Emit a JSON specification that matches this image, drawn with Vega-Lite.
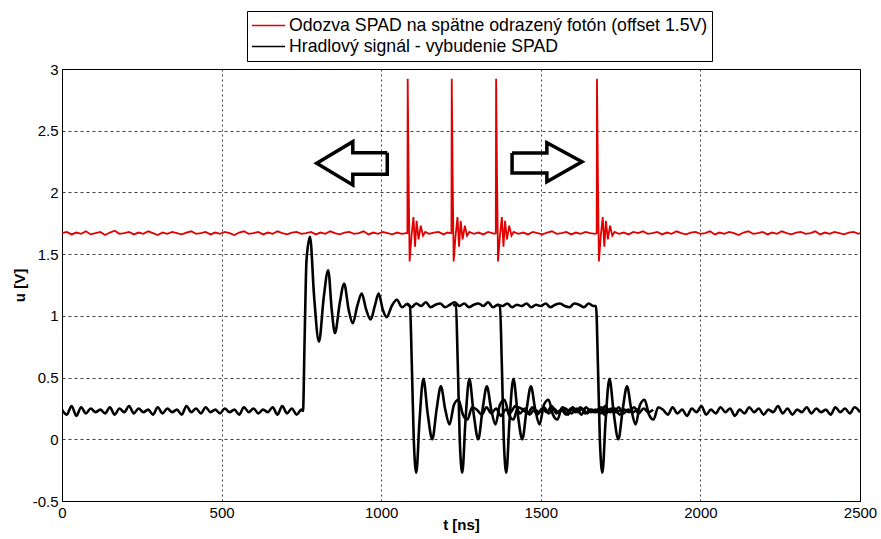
{
 "$schema": "https://vega.github.io/schema/vega-lite/v6.json",
 "width": 798,
 "height": 432,
 "autosize": {"type": "none"},
 "padding": {"left": 62, "top": 69, "right": 21, "bottom": 38},
 "background": "white",
 "config": {
  "view": {"stroke": "#000", "strokeWidth": 1},
  "font": "Liberation Sans",
  "axis": {"labelFont": "Liberation Sans", "labelFontSize": 15, "labelColor": "#000", "titleFont": "Liberation Sans", "titleFontSize": 15, "titleFontWeight": "bold", "titleColor": "#000", "domainColor": "#000", "gridColor": "#000", "gridOpacity": 0.75, "ticks": false, "labelPadding": 4, "labelFlush": false, "labelOverlap": false},
  "axisX": {"gridDash": [2, 3], "titlePadding": -3},
  "axisY": {"gridDash": [3, 3], "titlePadding": 5},
  "legend": {"orient": "none", "legendX": 185, "legendY": -58, "direction": "vertical", "strokeColor": "#000", "fillColor": "#fff", "padding": 4, "labelFont": "Liberation Sans", "labelFontSize": 17.7, "labelColor": "#000", "symbolType": "stroke", "symbolSize": 1100, "symbolStrokeWidth": 1.5, "labelOffset": 3, "rowPadding": 0, "clipHeight": 21, "labelLimit": 0, "cornerRadius": 0}
 },
 "datasets": {
  "red": [
   {"t":0,"u":1.67},{"t":15,"u":1.68},{"t":30,"u":1.66},{"t":45,"u":1.675},{"t":60,"u":1.665},{"t":75,"u":1.685},{"t":90,"u":1.66},{"t":105,"u":1.67},{"t":120,"u":1.68},{"t":135,"u":1.655},{"t":150,"u":1.675},{"t":165,"u":1.69},{"t":180,"u":1.665},{"t":195,"u":1.67},{"t":210,"u":1.68},{"t":225,"u":1.66},{"t":240,"u":1.675},{"t":255,"u":1.665},{"t":270,"u":1.685},{"t":285,"u":1.67},{"t":300,"u":1.655},{"t":315,"u":1.675},{"t":330,"u":1.665},{"t":345,"u":1.68},{"t":360,"u":1.67},{"t":375,"u":1.66},{"t":390,"u":1.675},{"t":405,"u":1.685},{"t":420,"u":1.665},{"t":435,"u":1.67},{"t":450,"u":1.68},{"t":465,"u":1.66},{"t":480,"u":1.675},{"t":495,"u":1.665},{"t":510,"u":1.68},{"t":525,"u":1.67},{"t":540,"u":1.655},{"t":555,"u":1.675},{"t":570,"u":1.685},{"t":585,"u":1.665},{"t":600,"u":1.67},{"t":615,"u":1.68},{"t":630,"u":1.66},{"t":645,"u":1.675},{"t":660,"u":1.665},{"t":675,"u":1.685},{"t":690,"u":1.67},{"t":705,"u":1.66},{"t":720,"u":1.675},{"t":735,"u":1.68},{"t":750,"u":1.665},{"t":765,"u":1.67},{"t":780,"u":1.68},{"t":795,"u":1.66},{"t":810,"u":1.675},{"t":825,"u":1.665},{"t":840,"u":1.685},{"t":855,"u":1.67},{"t":870,"u":1.66},{"t":885,"u":1.675},{"t":900,"u":1.68},{"t":915,"u":1.665},{"t":930,"u":1.67},{"t":945,"u":1.685},{"t":960,"u":1.66},{"t":975,"u":1.675},{"t":990,"u":1.665},{"t":1005,"u":1.68},{"t":1020,"u":1.67},{"t":1035,"u":1.66},{"t":1050,"u":1.675},{"t":1065,"u":1.665},{"t":1078,"u":1.67},
   {"t":1082,"u":1.67},{"t":1083,"u":2.92},{"t":1086,"u":2.1},{"t":1089,"u":1.44},{"t":1095,"u":1.65},{"t":1101,"u":1.8},{"t":1106,"u":1.56},{"t":1111,"u":1.77},{"t":1117,"u":1.62},{"t":1124,"u":1.73},{"t":1131,"u":1.65},{"t":1138,"u":1.68},
   {"t":1150,"u":1.665},{"t":1165,"u":1.675},{"t":1180,"u":1.68},{"t":1195,"u":1.66},{"t":1208,"u":1.675},{"t":1216,"u":1.67},
   {"t":1220,"u":1.67},{"t":1221,"u":2.92},{"t":1224,"u":2.1},{"t":1227,"u":1.44},{"t":1233,"u":1.65},{"t":1239,"u":1.8},{"t":1244,"u":1.56},{"t":1249,"u":1.77},{"t":1255,"u":1.62},{"t":1262,"u":1.73},{"t":1269,"u":1.65},{"t":1276,"u":1.68},
   {"t":1290,"u":1.665},{"t":1305,"u":1.675},{"t":1320,"u":1.66},{"t":1335,"u":1.68},{"t":1348,"u":1.67},{"t":1355,"u":1.665},
   {"t":1359,"u":1.67},{"t":1360,"u":2.92},{"t":1363,"u":2.1},{"t":1366,"u":1.44},{"t":1372,"u":1.65},{"t":1378,"u":1.8},{"t":1383,"u":1.56},{"t":1388,"u":1.77},{"t":1394,"u":1.62},{"t":1401,"u":1.73},{"t":1408,"u":1.65},{"t":1415,"u":1.68},
   {"t":1430,"u":1.665},{"t":1445,"u":1.675},{"t":1460,"u":1.66},{"t":1475,"u":1.68},{"t":1490,"u":1.67},{"t":1505,"u":1.66},{"t":1520,"u":1.675},{"t":1535,"u":1.685},{"t":1550,"u":1.665},{"t":1565,"u":1.67},{"t":1580,"u":1.68},{"t":1595,"u":1.66},{"t":1610,"u":1.675},{"t":1625,"u":1.665},{"t":1640,"u":1.68},{"t":1655,"u":1.67},{"t":1670,"u":1.665},
   {"t":1675,"u":1.67},{"t":1676,"u":2.92},{"t":1679,"u":2.1},{"t":1682,"u":1.44},{"t":1688,"u":1.65},{"t":1694,"u":1.8},{"t":1699,"u":1.56},{"t":1704,"u":1.77},{"t":1710,"u":1.62},{"t":1717,"u":1.73},{"t":1724,"u":1.65},{"t":1731,"u":1.68},
   {"t":1745,"u":1.665},{"t":1760,"u":1.675},{"t":1775,"u":1.66},{"t":1790,"u":1.68},{"t":1805,"u":1.67},{"t":1820,"u":1.685},{"t":1835,"u":1.665},{"t":1850,"u":1.67},{"t":1865,"u":1.68},{"t":1880,"u":1.66},{"t":1895,"u":1.675},{"t":1910,"u":1.665},{"t":1925,"u":1.685},{"t":1940,"u":1.67},{"t":1955,"u":1.66},{"t":1970,"u":1.675},{"t":1985,"u":1.68},{"t":2000,"u":1.665},{"t":2015,"u":1.67},{"t":2030,"u":1.685},{"t":2045,"u":1.66},{"t":2060,"u":1.675},{"t":2075,"u":1.665},{"t":2090,"u":1.68},{"t":2105,"u":1.67},{"t":2120,"u":1.655},{"t":2135,"u":1.675},{"t":2150,"u":1.685},{"t":2165,"u":1.665},{"t":2180,"u":1.67},{"t":2195,"u":1.68},{"t":2210,"u":1.66},{"t":2225,"u":1.675},{"t":2240,"u":1.665},{"t":2255,"u":1.685},{"t":2270,"u":1.67},{"t":2285,"u":1.66},{"t":2300,"u":1.675},{"t":2315,"u":1.68},{"t":2330,"u":1.665},{"t":2345,"u":1.67},{"t":2360,"u":1.685},{"t":2375,"u":1.66},{"t":2390,"u":1.675},{"t":2405,"u":1.665},{"t":2420,"u":1.68},{"t":2435,"u":1.67},{"t":2450,"u":1.66},{"t":2465,"u":1.675},{"t":2480,"u":1.68},{"t":2495,"u":1.665},{"t":2500,"u":1.67}
  ],
  "black": [
   {"t":0,"u":0.24,"k":"c"},{"t":15,"u":0.2,"k":"c"},{"t":30,"u":0.27,"k":"c"},{"t":45,"u":0.19,"k":"c"},{"t":60,"u":0.26,"k":"c"},{"t":75,"u":0.21,"k":"c"},{"t":90,"u":0.25,"k":"c"},{"t":105,"u":0.22,"k":"c"},{"t":120,"u":0.24,"k":"c"},{"t":135,"u":0.21,"k":"c"},{"t":150,"u":0.26,"k":"c"},{"t":165,"u":0.2,"k":"c"},{"t":180,"u":0.25,"k":"c"},{"t":195,"u":0.22,"k":"c"},{"t":210,"u":0.27,"k":"c"},{"t":225,"u":0.21,"k":"c"},{"t":240,"u":0.25,"k":"c"},{"t":255,"u":0.22,"k":"c"},{"t":270,"u":0.24,"k":"c"},{"t":285,"u":0.2,"k":"c"},{"t":300,"u":0.26,"k":"c"},{"t":315,"u":0.21,"k":"c"},{"t":330,"u":0.25,"k":"c"},{"t":345,"u":0.22,"k":"c"},{"t":360,"u":0.24,"k":"c"},{"t":375,"u":0.2,"k":"c"},{"t":390,"u":0.27,"k":"c"},{"t":405,"u":0.22,"k":"c"},{"t":420,"u":0.25,"k":"c"},{"t":435,"u":0.21,"k":"c"},{"t":450,"u":0.26,"k":"c"},{"t":465,"u":0.22,"k":"c"},{"t":480,"u":0.24,"k":"c"},{"t":495,"u":0.21,"k":"c"},{"t":510,"u":0.25,"k":"c"},{"t":525,"u":0.22,"k":"c"},{"t":540,"u":0.24,"k":"c"},{"t":555,"u":0.2,"k":"c"},{"t":570,"u":0.26,"k":"c"},{"t":585,"u":0.22,"k":"c"},{"t":600,"u":0.25,"k":"c"},{"t":615,"u":0.21,"k":"c"},{"t":630,"u":0.24,"k":"c"},{"t":645,"u":0.22,"k":"c"},{"t":660,"u":0.26,"k":"c"},{"t":675,"u":0.2,"k":"c"},{"t":690,"u":0.27,"k":"c"},{"t":705,"u":0.21,"k":"c"},{"t":720,"u":0.25,"k":"c"},{"t":735,"u":0.2,"k":"c"},{"t":750,"u":0.24,"k":"c"},{"t":755,"u":0.23,"k":"c"},
   {"t":760,"u":0.8,"k":"c"},{"t":766,"u":1.45,"k":"c"},{"t":777,"u":1.64,"k":"c"},{"t":790,"u":1.15,"k":"c"},{"t":805,"u":0.79,"k":"c"},{"t":820,"u":1.15,"k":"c"},{"t":834,"u":1.37,"k":"c"},{"t":845,"u":1.05,"k":"c"},{"t":855,"u":0.86,"k":"c"},{"t":870,"u":1.1,"k":"c"},{"t":884,"u":1.26,"k":"c"},{"t":898,"u":1.05,"k":"c"},{"t":911,"u":0.94,"k":"c"},{"t":925,"u":1.08,"k":"c"},{"t":939,"u":1.18,"k":"c"},{"t":953,"u":1.05,"k":"c"},{"t":967,"u":0.97,"k":"c"},{"t":980,"u":1.08,"k":"c"},{"t":992,"u":1.18,"k":"c"},{"t":1005,"u":1.05,"k":"c"},{"t":1017,"u":0.99,"k":"c"},{"t":1033,"u":1.08,"k":"c"},{"t":1049,"u":1.13,"k":"c"},{"t":1065,"u":1.07,"k":"c"},{"t":1080,"u":1.1,"k":"c"},
   {"t":1080,"u":1.1,"k":"D"},{"t":1095,"u":1.07,"k":"D"},{"t":1110,"u":1.1,"k":"D"},{"t":1125,"u":1.08,"k":"D"},{"t":1140,"u":1.11,"k":"D"},{"t":1155,"u":1.07,"k":"D"},{"t":1170,"u":1.09,"k":"D"},{"t":1185,"u":1.1,"k":"D"},{"t":1200,"u":1.07,"k":"D"},{"t":1215,"u":1.09,"k":"D"},{"t":1230,"u":1.11,"k":"D"},{"t":1245,"u":1.08,"k":"D"},{"t":1260,"u":1.1,"k":"D"},{"t":1275,"u":1.07,"k":"D"},{"t":1290,"u":1.09,"k":"D"},{"t":1305,"u":1.1,"k":"D"},{"t":1320,"u":1.08,"k":"D"},{"t":1335,"u":1.11,"k":"D"},{"t":1350,"u":1.07,"k":"D"},{"t":1365,"u":1.09,"k":"D"},{"t":1380,"u":1.08,"k":"D"},{"t":1395,"u":1.1,"k":"D"},{"t":1410,"u":1.07,"k":"D"},{"t":1425,"u":1.09,"k":"D"},{"t":1440,"u":1.08,"k":"D"},{"t":1455,"u":1.1,"k":"D"},{"t":1470,"u":1.07,"k":"D"},{"t":1485,"u":1.09,"k":"D"},{"t":1500,"u":1.08,"k":"D"},{"t":1515,"u":1.1,"k":"D"},{"t":1530,"u":1.07,"k":"D"},{"t":1545,"u":1.09,"k":"D"},{"t":1560,"u":1.1,"k":"D"},{"t":1575,"u":1.08,"k":"D"},{"t":1590,"u":1.07,"k":"D"},{"t":1605,"u":1.1,"k":"D"},{"t":1620,"u":1.09,"k":"D"},{"t":1635,"u":1.07,"k":"D"},{"t":1650,"u":1.1,"k":"D"},{"t":1665,"u":1.08,"k":"D"},{"t":1673,"u":1.08,"k":"D"},
   {"t":1679,"u":0.6,"k":"D"},{"t":1685,"u":0.0,"k":"D"},{"t":1693,"u":-0.27,"k":"D"},{"t":1703,"u":0.15,"k":"D"},{"t":1715,"u":0.49,"k":"D"},{"t":1729,"u":0.2,"k":"D"},{"t":1743,"u":0.0,"k":"D"},{"t":1757,"u":0.25,"k":"D"},{"t":1770,"u":0.43,"k":"D"},{"t":1783,"u":0.25,"k":"D"},{"t":1797,"u":0.12,"k":"D"},{"t":1811,"u":0.28,"k":"D"},{"t":1825,"u":0.32,"k":"D"},{"t":1839,"u":0.2,"k":"D"},{"t":1853,"u":0.16,"k":"D"},{"t":1868,"u":0.26,"k":"D"},{"t":1883,"u":0.24,"k":"D"},
   {"t":1898,"u":0.2,"k":"D"},{"t":1913,"u":0.26,"k":"D"},{"t":1928,"u":0.21,"k":"D"},{"t":1943,"u":0.24,"k":"D"},{"t":1958,"u":0.19,"k":"D"},{"t":1973,"u":0.25,"k":"D"},{"t":1988,"u":0.22,"k":"D"},{"t":2003,"u":0.27,"k":"D"},{"t":2018,"u":0.2,"k":"D"},{"t":2033,"u":0.24,"k":"D"},{"t":2048,"u":0.21,"k":"D"},{"t":2063,"u":0.26,"k":"D"},{"t":2078,"u":0.22,"k":"D"},{"t":2093,"u":0.25,"k":"D"},{"t":2108,"u":0.19,"k":"D"},{"t":2123,"u":0.24,"k":"D"},{"t":2138,"u":0.21,"k":"D"},{"t":2153,"u":0.26,"k":"D"},{"t":2168,"u":0.22,"k":"D"},{"t":2183,"u":0.25,"k":"D"},{"t":2198,"u":0.2,"k":"D"},{"t":2213,"u":0.24,"k":"D"},{"t":2228,"u":0.22,"k":"D"},{"t":2243,"u":0.27,"k":"D"},{"t":2258,"u":0.21,"k":"D"},{"t":2273,"u":0.25,"k":"D"},{"t":2288,"u":0.2,"k":"D"},{"t":2303,"u":0.24,"k":"D"},{"t":2318,"u":0.22,"k":"D"},{"t":2333,"u":0.26,"k":"D"},{"t":2348,"u":0.21,"k":"D"},{"t":2363,"u":0.25,"k":"D"},{"t":2378,"u":0.22,"k":"D"},{"t":2393,"u":0.24,"k":"D"},{"t":2408,"u":0.2,"k":"D"},{"t":2423,"u":0.26,"k":"D"},{"t":2438,"u":0.22,"k":"D"},{"t":2453,"u":0.25,"k":"D"},{"t":2468,"u":0.21,"k":"D"},{"t":2483,"u":0.26,"k":"D"},{"t":2500,"u":0.22,"k":"D"},
   {"t":1080,"u":1.1,"k":"A"},{"t":1090,"u":1.08,"k":"A"},{"t":1096,"u":0.6,"k":"A"},{"t":1102,"u":0.0,"k":"A"},{"t":1110,"u":-0.27,"k":"A"},{"t":1120,"u":0.15,"k":"A"},{"t":1132,"u":0.49,"k":"A"},{"t":1146,"u":0.2,"k":"A"},{"t":1160,"u":0.0,"k":"A"},{"t":1174,"u":0.25,"k":"A"},{"t":1187,"u":0.43,"k":"A"},{"t":1200,"u":0.25,"k":"A"},{"t":1214,"u":0.12,"k":"A"},{"t":1228,"u":0.28,"k":"A"},{"t":1242,"u":0.32,"k":"A"},{"t":1256,"u":0.2,"k":"A"},{"t":1270,"u":0.16,"k":"A"},{"t":1285,"u":0.26,"k":"A"},{"t":1300,"u":0.24,"k":"A"},{"t":1315,"u":0.2,"k":"A"},{"t":1330,"u":0.26,"k":"A"},{"t":1345,"u":0.21,"k":"A"},{"t":1360,"u":0.25,"k":"A"},{"t":1375,"u":0.19,"k":"A"},{"t":1390,"u":0.24,"k":"A"},{"t":1405,"u":0.22,"k":"A"},{"t":1420,"u":0.27,"k":"A"},{"t":1435,"u":0.21,"k":"A"},{"t":1450,"u":0.25,"k":"A"},{"t":1465,"u":0.2,"k":"A"},{"t":1480,"u":0.24,"k":"A"},{"t":1495,"u":0.22,"k":"A"},{"t":1510,"u":0.26,"k":"A"},{"t":1525,"u":0.21,"k":"A"},{"t":1540,"u":0.25,"k":"A"},{"t":1555,"u":0.22,"k":"A"},{"t":1570,"u":0.24,"k":"A"},{"t":1585,"u":0.2,"k":"A"},{"t":1600,"u":0.26,"k":"A"},{"t":1615,"u":0.22,"k":"A"},{"t":1630,"u":0.25,"k":"A"},{"t":1645,"u":0.21,"k":"A"},{"t":1660,"u":0.24,"k":"A"},{"t":1675,"u":0.22,"k":"A"},{"t":1690,"u":0.26,"k":"A"},{"t":1705,"u":0.21,"k":"A"},{"t":1720,"u":0.25,"k":"A"},{"t":1735,"u":0.22,"k":"A"},{"t":1750,"u":0.24,"k":"A"},
   {"t":1225,"u":1.09,"k":"B"},{"t":1234,"u":1.08,"k":"B"},{"t":1240,"u":0.6,"k":"B"},{"t":1246,"u":0.0,"k":"B"},{"t":1254,"u":-0.27,"k":"B"},{"t":1264,"u":0.15,"k":"B"},{"t":1276,"u":0.49,"k":"B"},{"t":1290,"u":0.2,"k":"B"},{"t":1304,"u":0.0,"k":"B"},{"t":1318,"u":0.25,"k":"B"},{"t":1331,"u":0.43,"k":"B"},{"t":1344,"u":0.25,"k":"B"},{"t":1358,"u":0.12,"k":"B"},{"t":1372,"u":0.28,"k":"B"},{"t":1386,"u":0.32,"k":"B"},{"t":1400,"u":0.2,"k":"B"},{"t":1414,"u":0.16,"k":"B"},{"t":1429,"u":0.26,"k":"B"},{"t":1444,"u":0.24,"k":"B"},{"t":1459,"u":0.21,"k":"B"},{"t":1474,"u":0.26,"k":"B"},{"t":1489,"u":0.2,"k":"B"},{"t":1504,"u":0.25,"k":"B"},{"t":1519,"u":0.22,"k":"B"},{"t":1534,"u":0.27,"k":"B"},{"t":1549,"u":0.21,"k":"B"},{"t":1564,"u":0.24,"k":"B"},{"t":1579,"u":0.2,"k":"B"},{"t":1594,"u":0.25,"k":"B"},{"t":1609,"u":0.22,"k":"B"},{"t":1624,"u":0.26,"k":"B"},{"t":1639,"u":0.21,"k":"B"},{"t":1654,"u":0.24,"k":"B"},{"t":1669,"u":0.22,"k":"B"},{"t":1684,"u":0.25,"k":"B"},{"t":1699,"u":0.2,"k":"B"},{"t":1714,"u":0.24,"k":"B"},{"t":1729,"u":0.22,"k":"B"},{"t":1744,"u":0.26,"k":"B"},{"t":1759,"u":0.21,"k":"B"},{"t":1774,"u":0.24,"k":"B"},{"t":1789,"u":0.22,"k":"B"},{"t":1804,"u":0.25,"k":"B"},
   {"t":1362,"u":1.09,"k":"C"},{"t":1372,"u":1.08,"k":"C"},{"t":1378,"u":0.6,"k":"C"},{"t":1384,"u":0.0,"k":"C"},{"t":1392,"u":-0.27,"k":"C"},{"t":1402,"u":0.15,"k":"C"},{"t":1414,"u":0.49,"k":"C"},{"t":1428,"u":0.2,"k":"C"},{"t":1442,"u":0.0,"k":"C"},{"t":1456,"u":0.25,"k":"C"},{"t":1469,"u":0.43,"k":"C"},{"t":1482,"u":0.25,"k":"C"},{"t":1496,"u":0.12,"k":"C"},{"t":1510,"u":0.28,"k":"C"},{"t":1524,"u":0.32,"k":"C"},{"t":1538,"u":0.2,"k":"C"},{"t":1552,"u":0.16,"k":"C"},{"t":1567,"u":0.26,"k":"C"},{"t":1582,"u":0.24,"k":"C"},{"t":1597,"u":0.21,"k":"C"},{"t":1612,"u":0.25,"k":"C"},{"t":1627,"u":0.2,"k":"C"},{"t":1642,"u":0.26,"k":"C"},{"t":1657,"u":0.22,"k":"C"},{"t":1672,"u":0.24,"k":"C"},{"t":1687,"u":0.21,"k":"C"},{"t":1702,"u":0.27,"k":"C"},{"t":1717,"u":0.22,"k":"C"},{"t":1732,"u":0.25,"k":"C"},{"t":1747,"u":0.2,"k":"C"},{"t":1762,"u":0.24,"k":"C"},{"t":1777,"u":0.22,"k":"C"},{"t":1792,"u":0.26,"k":"C"},{"t":1807,"u":0.21,"k":"C"},{"t":1822,"u":0.25,"k":"C"},{"t":1837,"u":0.22,"k":"C"},{"t":1852,"u":0.24,"k":"C"}
  ],
  "arrows": [
   {"t":1019,"u":2.322,"k":"L","o":0},{"t":911,"u":2.322,"k":"L","o":1},{"t":911,"u":2.411,"k":"L","o":2},{"t":798,"u":2.236,"k":"L","o":3},{"t":911,"u":2.06,"k":"L","o":4},{"t":911,"u":2.147,"k":"L","o":5},{"t":1019,"u":2.147,"k":"L","o":6},{"t":1019,"u":2.322,"k":"L","o":7},
   {"t":1410,"u":2.319,"k":"R","o":0},{"t":1519,"u":2.319,"k":"R","o":1},{"t":1519,"u":2.403,"k":"R","o":2},{"t":1629,"u":2.249,"k":"R","o":3},{"t":1519,"u":2.087,"k":"R","o":4},{"t":1519,"u":2.157,"k":"R","o":5},{"t":1410,"u":2.157,"k":"R","o":6},{"t":1410,"u":2.319,"k":"R","o":7}
  ]
 },
 "encoding": {
  "x": {"field": "t", "type": "quantitative", "scale": {"domain": [0, 2500], "nice": false}, "axis": {"values": [0, 500, 1000, 1500, 2000, 2500], "format": "d", "title": "t [ns]"}},
  "y": {"field": "u", "type": "quantitative", "scale": {"domain": [-0.5, 3], "nice": false, "zero": false}, "axis": {"values": [-0.5, 0, 0.5, 1, 1.5, 2, 2.5, 3], "labelExpr": "'' + datum.value", "title": "u [V]"}}
 },
 "layer": [
  {"data": {"name": "black"}, "mark": {"type": "line", "strokeWidth": 2.6, "interpolate": "monotone", "clip": true},
   "encoding": {"detail": {"field": "k"}, "color": {"datum": "Hradlový signál - vybudenie SPAD", "type": "nominal", "scale": {"domain": ["Odozva SPAD na spätne odrazený fotón (offset 1.5V)", "Hradlový signál - vybudenie SPAD"], "range": ["#e00000", "#000000"]}, "legend": {"title": null}}}},
  {"data": {"name": "red"}, "mark": {"type": "line", "strokeWidth": 1.8, "clip": true},
   "encoding": {"color": {"datum": "Odozva SPAD na spätne odrazený fotón (offset 1.5V)", "type": "nominal"}}},
  {"data": {"name": "arrows"}, "mark": {"type": "line", "strokeWidth": 3.5, "color": "#000", "strokeJoin": "miter"},
   "encoding": {"detail": {"field": "k"}, "order": {"field": "o", "type": "quantitative"}}}
 ]
}
